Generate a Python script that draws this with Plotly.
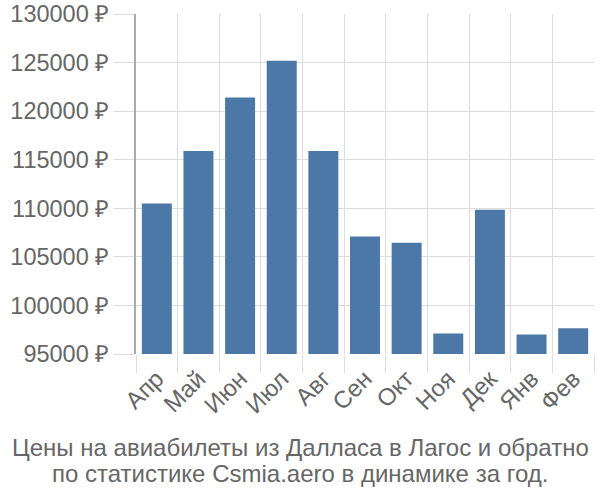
import plotly.graph_objects as go

months = ["Апр", "Май", "Июн", "Июл", "Авг", "Сен", "Окт", "Ноя", "Дек", "Янв", "Фев"]
prices = [110500, 115900, 121400, 125200, 115900, 107100, 106450, 97100, 109850, 97000, 97650]
y_ticks = [95000, 100000, 105000, 110000, 115000, 120000, 125000, 130000]
y_labels = [f"{v} ₽" for v in y_ticks]
title_lines = ["Цены на авиабилеты из Далласа в Лагос и обратно",
               "по статистике Csmia.aero в динамике за год."]

fig = go.Figure(go.Bar(x=months, y=prices, marker=dict(color="#4c78a8", line=dict(width=0))))

font = "Liberation Sans, Arial, sans-serif"
fig.update_layout(
    width=600, height=500,
    margin=dict(l=136, r=6, t=14, b=146, autoexpand=False),
    plot_bgcolor="white", paper_bgcolor="white",
    bargap=0.28,
    showlegend=False,
    font=dict(family=font, color="#666666"),
)
for i, (line, ypix) in enumerate(zip(title_lines, [447, 473])):
    fig.add_annotation(text=line, xref="paper", x=(300 - 136) / 458, xanchor="center",
                       yref="paper", y=(354 - ypix) / 340, yanchor="middle",
                       showarrow=False, font=dict(size=24, color="#666666", family=font))
fig.update_xaxes(
    type="category", tickson="boundaries", showgrid=True, gridcolor="#dddddd", gridwidth=1,
    ticks="outside", ticklen=18, tickcolor="#dddddd", tickangle=-45, ticklabelstandoff=5,
    tickfont=dict(size=24, color="#666666"), showline=False, zeroline=False, automargin=False,
)
fig.update_yaxes(
    range=[95000, 130000], tickvals=y_ticks, ticktext=y_labels,
    showgrid=True, gridcolor="#dddddd", gridwidth=1,
    ticks="outside", ticklen=20, tickcolor="#dddddd",
    tickfont=dict(size=23.5, color="#666666"),
    showline=True, linecolor="#aaaaaa", linewidth=2, zeroline=False, automargin=False,
)
fig.write_html("out.html")
